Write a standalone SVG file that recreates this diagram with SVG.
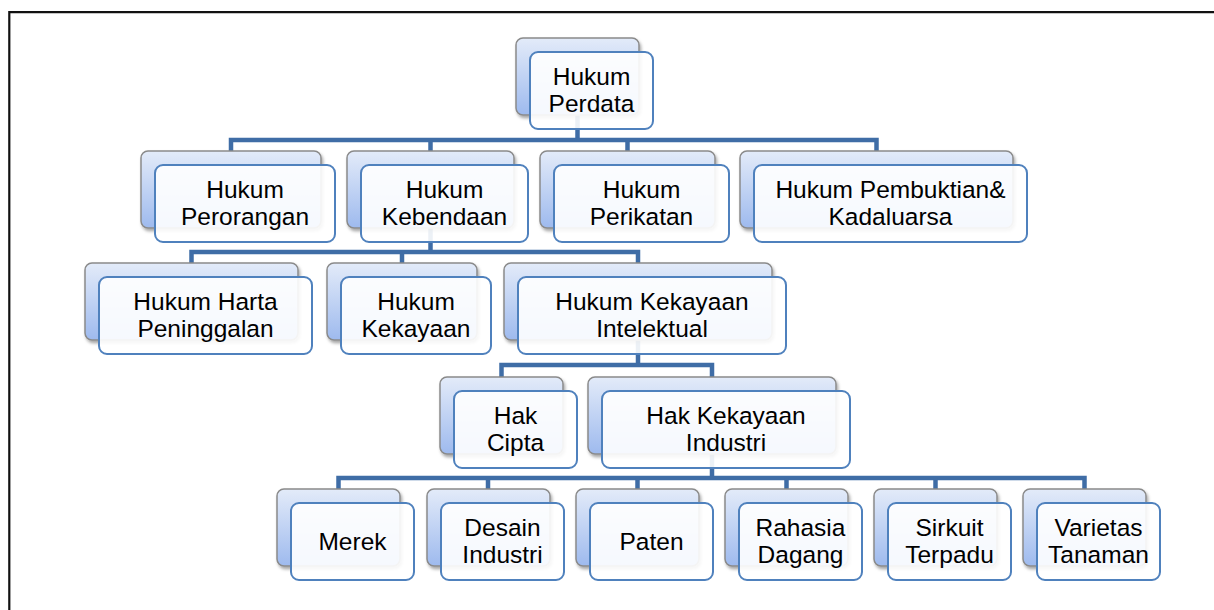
<svg xmlns="http://www.w3.org/2000/svg" width="1214" height="610" viewBox="0 0 1214 610">
<defs>
<linearGradient id="gBack" x1="0" y1="0" x2="0" y2="1">
<stop offset="0" stop-color="#E3EBF9"/>
<stop offset="1" stop-color="#9EBAEE"/>
</linearGradient>
<filter id="sh" x="-10%" y="-10%" width="125%" height="130%">
<feDropShadow dx="1.5" dy="2.5" stdDeviation="1.5" flood-color="#000" flood-opacity="0.35"/>
</filter>
<style>
.back{fill:url(#gBack);stroke:#8A8A8A;stroke-width:1.5;filter:url(#sh)}
.front{fill:#FFFFFF;fill-opacity:0.9;stroke:#4F81BD;stroke-width:2}
.t{font-family:"Liberation Sans",Arial,sans-serif;font-size:24.5px;fill:#000;text-anchor:middle}
.c{fill:none;stroke:#3F6DA6;stroke-width:4.5;stroke-linejoin:miter}
.frame{fill:none;stroke:#111;stroke-width:2.2}
</style>
</defs>
<rect width="1214" height="610" fill="#FFFFFF"/>
<path class="frame" d="M9.3,610 V12.2 H1214"/>

<g id="connectors">
<path class="c" d="M577.5,115 V140"/>
<path class="c" d="M231,151 V140 H876.5 V151"/>
<path class="c" d="M430.5,140 V151"/>
<path class="c" d="M627.5,140 V151"/>

<path class="c" d="M430.5,228 V252"/>
<path class="c" d="M191.5,263 V252 H638 V263"/>
<path class="c" d="M402,252 V263"/>

<path class="c" d="M638,340 V365"/>
<path class="c" d="M501.5,377 V365 H712 V377"/>

<path class="c" d="M712,453 V478"/>
<path class="c" d="M338.5,489 V478 H1084.5 V489"/>
<path class="c" d="M488,478 V489"/>
<path class="c" d="M637.5,478 V489"/>
<path class="c" d="M786.5,478 V489"/>
<path class="c" d="M935.5,478 V489"/>
</g>

<g id="n-hukum-perdata">
<rect class="back" x="516" y="38" width="123" height="77" rx="7"/>
<rect class="front" x="530" y="52" width="123" height="77" rx="8"/>
<text class="t" x="591.5" y="84.5">Hukum</text>
<text class="t" x="591.5" y="111.5">Perdata</text>
</g>

<g id="n-perorangan">
<rect class="back" x="141" y="151" width="180" height="77" rx="7"/>
<rect class="front" x="155" y="165" width="180" height="77" rx="8"/>
<text class="t" x="245" y="197.5">Hukum</text>
<text class="t" x="245" y="224.5">Perorangan</text>
</g>

<g id="n-kebendaan">
<rect class="back" x="347" y="151" width="167" height="77" rx="7"/>
<rect class="front" x="361" y="165" width="167" height="77" rx="8"/>
<text class="t" x="444.5" y="197.5">Hukum</text>
<text class="t" x="444.5" y="224.5">Kebendaan</text>
</g>

<g id="n-perikatan">
<rect class="back" x="540" y="151" width="175" height="77" rx="7"/>
<rect class="front" x="554" y="165" width="175" height="77" rx="8"/>
<text class="t" x="641.5" y="197.5">Hukum</text>
<text class="t" x="641.5" y="224.5">Perikatan</text>
</g>

<g id="n-pembuktian">
<rect class="back" x="740" y="151" width="273" height="77" rx="7"/>
<rect class="front" x="754" y="165" width="273" height="77" rx="8"/>
<text class="t" x="890.5" y="197.5">Hukum Pembuktian&amp;</text>
<text class="t" x="890.5" y="224.5">Kadaluarsa</text>
</g>

<g id="n-harta">
<rect class="back" x="85" y="263" width="213" height="77" rx="7"/>
<rect class="front" x="99" y="277" width="213" height="77" rx="8"/>
<text class="t" x="205.5" y="309.5">Hukum Harta</text>
<text class="t" x="205.5" y="336.5">Peninggalan</text>
</g>

<g id="n-kekayaan">
<rect class="back" x="327" y="263" width="150" height="77" rx="7"/>
<rect class="front" x="341" y="277" width="150" height="77" rx="8"/>
<text class="t" x="416" y="309.5">Hukum</text>
<text class="t" x="416" y="336.5">Kekayaan</text>
</g>

<g id="n-intelektual">
<rect class="back" x="504" y="263" width="268" height="77" rx="7"/>
<rect class="front" x="518" y="277" width="268" height="77" rx="8"/>
<text class="t" x="652" y="309.5">Hukum Kekayaan</text>
<text class="t" x="652" y="336.5">Intelektual</text>
</g>

<g id="n-hak-cipta">
<rect class="back" x="440" y="377" width="123" height="77" rx="7"/>
<rect class="front" x="454" y="391" width="123" height="77" rx="8"/>
<text class="t" x="515.5" y="423.5">Hak</text>
<text class="t" x="515.5" y="450.5">Cipta</text>
</g>

<g id="n-industri">
<rect class="back" x="588" y="377" width="248" height="77" rx="7"/>
<rect class="front" x="602" y="391" width="248" height="77" rx="8"/>
<text class="t" x="726" y="423.5">Hak Kekayaan</text>
<text class="t" x="726" y="450.5">Industri</text>
</g>

<g id="n-merek">
<rect class="back" x="277" y="489" width="123" height="77" rx="7"/>
<rect class="front" x="291" y="503" width="123" height="77" rx="8"/>
<text class="t" x="352.5" y="550">Merek</text>
</g>

<g id="n-desain">
<rect class="back" x="427" y="489" width="123" height="77" rx="7"/>
<rect class="front" x="441" y="503" width="123" height="77" rx="8"/>
<text class="t" x="502.5" y="535.5">Desain</text>
<text class="t" x="502.5" y="562.5">Industri</text>
</g>

<g id="n-paten">
<rect class="back" x="576" y="489" width="123" height="77" rx="7"/>
<rect class="front" x="590" y="503" width="123" height="77" rx="8"/>
<text class="t" x="651.5" y="550">Paten</text>
</g>

<g id="n-rahasia">
<rect class="back" x="725" y="489" width="123" height="77" rx="7"/>
<rect class="front" x="739" y="503" width="123" height="77" rx="8"/>
<text class="t" x="800.5" y="535.5">Rahasia</text>
<text class="t" x="800.5" y="562.5">Dagang</text>
</g>

<g id="n-sirkuit">
<rect class="back" x="874" y="489" width="123" height="77" rx="7"/>
<rect class="front" x="888" y="503" width="123" height="77" rx="8"/>
<text class="t" x="949.5" y="535.5">Sirkuit</text>
<text class="t" x="949.5" y="562.5">Terpadu</text>
</g>

<g id="n-varietas">
<rect class="back" x="1023" y="489" width="123" height="77" rx="7"/>
<rect class="front" x="1037" y="503" width="123" height="77" rx="8"/>
<text class="t" x="1098.5" y="535.5">Varietas</text>
<text class="t" x="1098.5" y="562.5">Tanaman</text>
</g>
</svg>
